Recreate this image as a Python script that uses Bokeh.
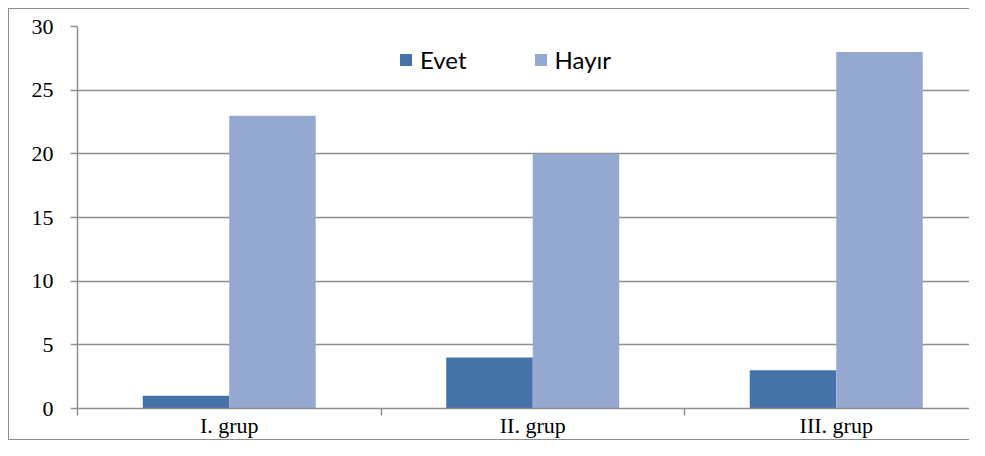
import numpy as np
from bokeh.plotting import figure
from bokeh.models import (Range1d, FixedTicker, Legend, LegendItem, ColumnDataSource)
from bokeh.embed import file_html
from bokeh.resources import INLINE

categories = ["I. grup", "II. grup", "III. grup"]
evet = [1, 4, 3]
hayir = [23, 20, 28]
y_ticks = [0, 5, 10, 15, 20, 25, 30]

series_names = ["Evet", "Hayır"]
colors = ["#4572A7", "#95A9D0"]

centers = np.arange(len(categories)) + 0.5
bar_w = 0.285

W, H = 969, 440
LEFT, TOP, BOTTOM = 77, 26, 32
p = figure(width=W, height=H, output_backend="svg", toolbar_location=None,
           x_range=Range1d(0, (W - LEFT) / 303.5), y_range=Range1d(0, 30),
           min_border_left=LEFT, min_border_top=TOP, min_border_bottom=BOTTOM,
           min_border_right=0)
p.outline_line_color = None
p.background_fill_color = "white"
p.border_fill_alpha = 0

# outer chart-area border (left, top, bottom) painted behind the transparent canvas border
bc = "#8c8c8c"
g = f"linear-gradient({bc},{bc})"
p.styles = {
    "background": (f"{g} 8px 8px / 1px {H - 8}px no-repeat, "
                   f"{g} 8px 8px / {W}px 1px no-repeat, "
                   f"{g} 8px {H - 1}px / {W}px 1px no-repeat, white"),
}

src = ColumnDataSource(dict(x_e=centers - bar_w / 2, x_h=centers + bar_w / 2,
                            evet=evet, hayir=hayir))
r1 = p.vbar(x="x_e", top="evet", width=bar_w, source=src,
            fill_color=colors[0], line_color=None)
r2 = p.vbar(x="x_h", top="hayir", width=bar_w, source=src,
            fill_color=colors[1], line_color=None)

grid_col = "#8e8e8e"
p.xaxis.ticker = FixedTicker(ticks=list(centers),
                             minor_ticks=list(range(len(categories) + 1)))
p.xaxis.major_label_overrides = {float(c): lab for c, lab in zip(centers, categories)}
p.xaxis.major_tick_out = 0
p.xaxis.major_tick_in = 0
p.xaxis.minor_tick_out = 7
p.xaxis.minor_tick_in = 0
p.xaxis.minor_tick_line_color = grid_col
p.xaxis.minor_tick_line_width = 1.5
p.xaxis.axis_line_color = grid_col
p.xaxis.axis_line_width = 1.5
p.xaxis.major_label_standoff = -3
p.xaxis.major_label_text_font = "Liberation Serif"
p.xaxis.major_label_text_font_size = "22px"
p.xaxis.major_label_text_color = "black"
p.xgrid.grid_line_color = None

p.yaxis.ticker = FixedTicker(ticks=y_ticks)
p.yaxis.major_tick_out = 7
p.yaxis.major_tick_in = 0
p.yaxis.minor_tick_line_color = None
p.yaxis.major_tick_line_color = grid_col
p.yaxis.major_tick_line_width = 1.5
p.yaxis.axis_line_color = grid_col
p.yaxis.axis_line_width = 1.5
p.yaxis.major_label_standoff = 17
p.yaxis.major_label_text_font = "Liberation Serif"
p.yaxis.major_label_text_font_size = "22px"
p.yaxis.major_label_text_color = "black"
p.ygrid.grid_line_color = grid_col
p.ygrid.grid_line_width = 1.5

legend = Legend(items=[LegendItem(label=series_names[0], renderers=[r1]),
                       LegendItem(label=series_names[1], renderers=[r2])],
                orientation="horizontal", location=(321, 334),
                glyph_width=15, glyph_height=15, label_standoff=7, spacing=66,
                padding=0, margin=0, border_line_color=None,
                background_fill_alpha=0,
                label_text_font="Lato", label_text_font_size="24px",
                label_text_color="black")
p.add_layout(legend, "center")

open("out.html", "w").write(file_html(p, INLINE))
